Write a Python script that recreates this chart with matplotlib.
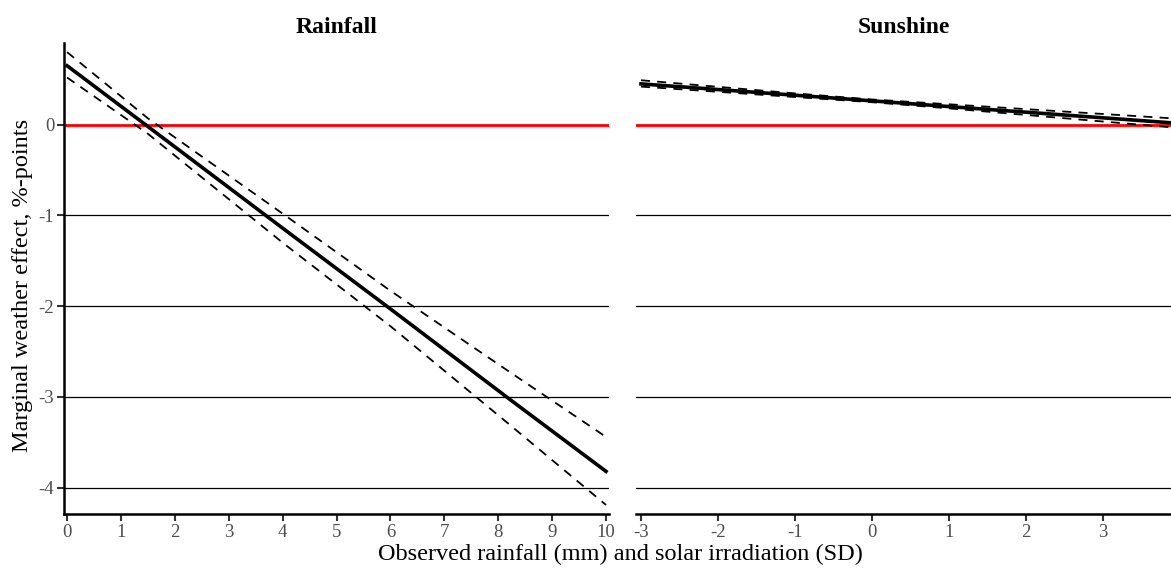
import matplotlib.pyplot as plt

# values
rain_x = [0, 1.5, 4, 6, 8.2, 10]
rain_fit = [0.65, -0.02, -1.14, -2.03, -3.02, -3.82]
rain_hi = [0.80, 0.07, -0.98, -1.83, -2.72, -3.44]
rain_lo = [0.52, -0.10, -1.30, -2.22, -3.30, -4.19]

sun_x = [-3, -1, 0, 1, 3.9]
sun_fit = [0.45, 0.325, 0.263, 0.20, 0.02]
sun_hi = [0.49, 0.345, 0.278, 0.225, 0.07]
sun_lo = [0.42, 0.305, 0.248, 0.18, -0.03]

panel_titles = ['Rainfall', 'Sunshine']
y_ticks = [0, -1, -2, -3, -4]
rain_ticks = list(range(0, 11))
sun_ticks = [-3, -2, -1, 0, 1, 2, 3]

plt.rcParams['font.family'] = ['Liberation Serif', 'DejaVu Serif']

fig = plt.figure(figsize=(11.71, 5.70), dpi=100)
ax1 = fig.add_axes([0.0547, 0.0982, 0.4654, 0.8263])
ax2 = fig.add_axes([0.5431, 0.0982, 0.4569, 0.8263])

panels = [
    (ax1, rain_x, rain_fit, rain_hi, rain_lo, rain_ticks, (-0.056, 10.056)),
    (ax2, sun_x, sun_fit, sun_hi, sun_lo, sun_ticks, (-3.065, 3.883)),
]

for i, (ax, x, fit, hi, lo, xt, xl) in enumerate(panels):
    for yv in y_ticks[1:]:
        ax.axhline(yv, color='black', lw=0.9, zorder=1)
    ax.axhline(0, color='#FF0000', lw=2.0, zorder=2)
    ax.plot(x, hi, color='black', lw=1.3, ls=(0, (5, 4)), zorder=3)
    ax.plot(x, lo, color='black', lw=1.3, ls=(0, (5, 4)), zorder=3)
    ax.plot(x, fit, color='black', lw=2.6, zorder=4)
    ax.set_xlim(*xl)
    ax.set_ylim(-4.29, 0.90)
    ax.set_xticks(xt)
    ax.set_xticklabels([str(v) for v in xt])
    ax.set_title(panel_titles[i], fontsize=17, fontweight='bold', pad=7)
    for s in ['top', 'right']:
        ax.spines[s].set_visible(False)
    ax.spines['bottom'].set_linewidth(1.8)
    ax.spines['left'].set_linewidth(1.8)
    ax.tick_params(axis='x', length=5, width=1.5, color='#333333',
                   labelsize=13.5, labelcolor='#4D4D4D', pad=2)
    ax.tick_params(axis='y', length=5, width=1.5, color='#333333',
                   labelsize=13.5, labelcolor='#4D4D4D', pad=2)

ax1.set_yticks(y_ticks)
ax1.set_yticklabels([str(v) for v in y_ticks])
ax2.set_yticks([])
ax2.spines['left'].set_visible(False)

fig.text(0.019, 0.5, 'Marginal weather effect, %-points', rotation=90,
         ha='center', va='center', fontsize=17.5)
fig.text(0.53, 0.028, 'Observed rainfall (mm) and solar irradiation (SD)',
         ha='center', va='center', fontsize=17.5)

fig.savefig('out.png', dpi=100)
